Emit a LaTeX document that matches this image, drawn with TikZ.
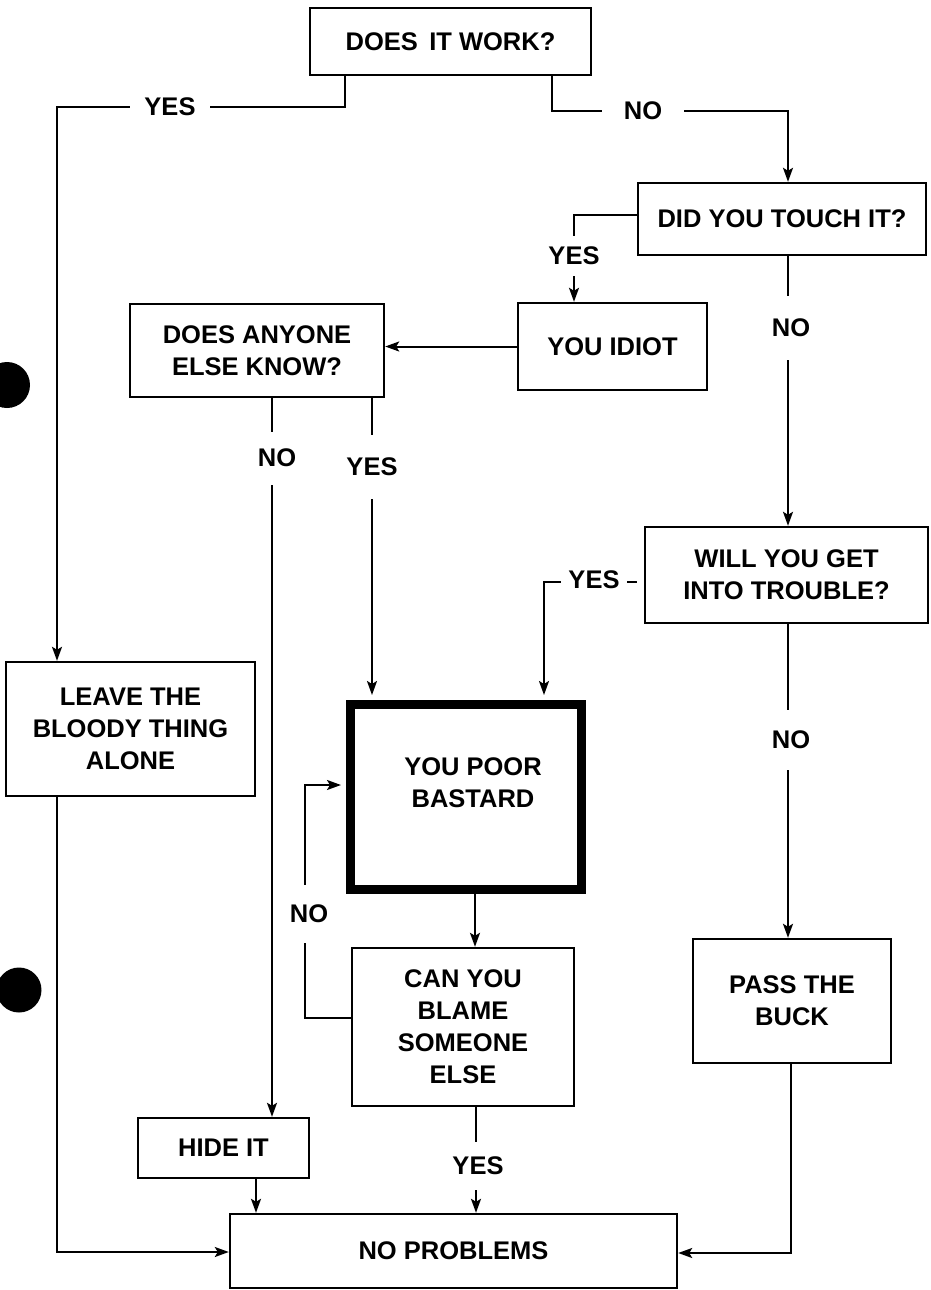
\documentclass[tikz,border=0pt]{standalone}
\usepackage{fontspec}
\setmainfont{Liberation Sans}
\usetikzlibrary{arrows.meta}
\newcommand\chartfont{\fontsize{25.5}{32}\selectfont\bfseries}
\begin{document}
\begin{tikzpicture}[x=1pt,y=-1pt,
  box/.style={draw, line width=2.4pt, inner sep=0pt, align=center, font=\chartfont},
  thickbox/.style={draw, line width=9pt, inner sep=0pt},
  txt/.style={align=center, font=\chartfont, inner sep=0pt},
  lbl/.style={fill=white, font=\chartfont, inner sep=0pt},
  conn/.style={line width=2pt},
  arr/.style={line width=2pt, -{Stealth[length=14pt,width=10pt,inset=3pt]}},
  dot/.style={fill=black}
]
\useasboundingbox (0,0) rectangle (931,1290);

% boxes
\node[box, minimum width=281pt, minimum height=67pt] (work) at (450.5,41.5) {DOES\ \,IT WORK?};
\node[box, minimum width=288pt, minimum height=72pt] (touch) at (782,219) {DID YOU TOUCH IT?};
\node[box, minimum width=189pt, minimum height=87pt] (idiot) at (612.5,346.5) {YOU IDIOT};
\node[box, minimum width=254pt, minimum height=93pt] (anyone) at (257,350.5) {DOES ANYONE\\ELSE KNOW?};
\node[box, minimum width=283pt, minimum height=96pt] (trouble) at (786.5,575) {WILL YOU GET\\INTO TROUBLE?};
\node[box, minimum width=249pt, minimum height=134pt] (leave) at (130.5,729) {LEAVE THE\\BLOODY THING\\ALONE};
\node[thickbox, minimum width=231pt, minimum height=185pt] (poor) at (465.5,796.5) {};
\node[txt] (poortext) at (473,783) {YOU POOR\\BASTARD};
\node[box, minimum width=222pt, minimum height=158pt] (blame) at (463,1027) {CAN YOU\\BLAME\\SOMEONE\\ELSE};
\node[box, minimum width=198pt, minimum height=124pt] (buck) at (792,1001) {PASS THE\\BUCK};
\node[box, minimum width=171pt, minimum height=60pt] (hide) at (223.5,1148) {HIDE IT};
\node[box, minimum width=447pt, minimum height=74pt] (noprob) at (453.5,1251) {NO PROBLEMS};

% punch holes
\fill[dot] (7,385) circle[radius=23];
\fill[dot] (19,990) circle[radius=22.5];

% helper coordinates
\coordinate (c1) at (345,107);
\coordinate (c2) at (57,107);
\coordinate (c3) at (552,111);
\coordinate (c4) at (788,111);
\coordinate (c5) at (574,215);
\coordinate (c6) at (544,582);
\coordinate (c7) at (305,1018);
\coordinate (c8) at (305,785);
\coordinate (c9) at (57,1252);
\coordinate (c10) at (791,1253);

% connectors
\draw[arr] (work.south -| c1) -- (c1) -- (c2) -- (leave.north -| c2);
\node[lbl, minimum width=80pt] at (170,107) {YES};

\draw[arr] (work.south -| c3) -- (c3) -- (c4) -- (touch.north -| c4);
\node[lbl, minimum width=82pt] at (643,111) {NO};

\draw[arr] (touch.west |- c5) -- (c5) -- (idiot.north -| c5);
\node[lbl, minimum height=40pt] at (574,256) {YES};

\draw[arr] (touch.south -| c4) -- (trouble.north -| c4);
\node[lbl, minimum height=64pt] at (791,328) {NO};

\draw[arr] (idiot.west) -- (anyone.east |- idiot.west);

\draw[arr] (anyone.south -| 272,0) -- (hide.north -| 272,0);
\node[lbl, minimum height=53pt] at (277,458) {NO};

\draw[arr] (anyone.south -| 372,0) -- ([yshift=4.5pt]poor.north -| 372,0);
\node[lbl, minimum height=64pt] at (372,467) {YES};

\draw[arr] (trouble.west |- c6) -- (c6) -- ([yshift=4.5pt]poor.north -| c6);
\node[lbl, minimum width=66pt, minimum height=26pt] at (594,580) {YES};
\draw[white, line width=3pt] (636.5,582) -- (643.6,582);

\draw[arr] (trouble.south -| c4) -- (buck.north -| c4);
\node[lbl, minimum height=60pt] at (791,740) {NO};

\draw[arr] ([yshift=4.5pt]poor.south -| 475,0) -- (blame.north -| 475,0);

\draw[arr] (blame.west |- c7) -- (c7) -- (c8) -- ([xshift=-4.5pt]poor.west |- c8);
\node[lbl, minimum height=58pt] at (309,914) {NO};

\draw[arr] (blame.south -| 476,0) -- (noprob.north -| 476,0);
\node[lbl, minimum height=48pt] at (478,1166) {YES};

\draw[arr] (hide.south -| 256,0) -- (noprob.north -| 256,0);

\draw[arr] (leave.south -| c9) -- (c9) -- (noprob.west |- c9);
\draw[arr] (buck.south -| c10) -- (c10) -- (noprob.east |- c10);
\end{tikzpicture}
\end{document}
